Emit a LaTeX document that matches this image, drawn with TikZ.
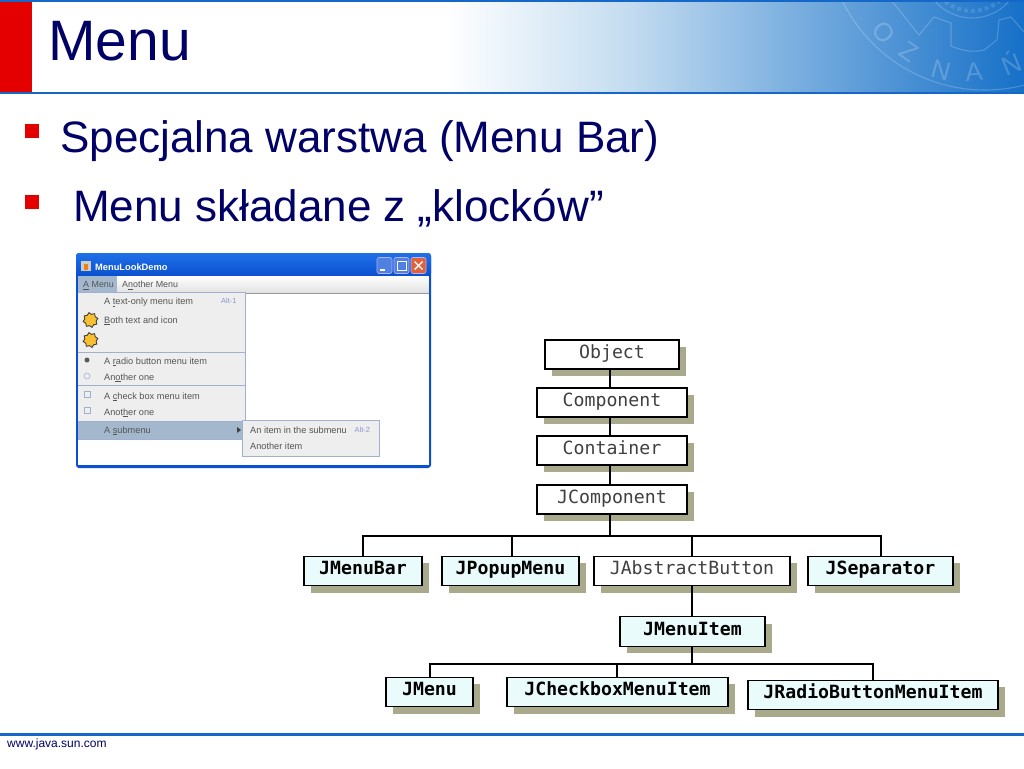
\documentclass[tikz,border=0pt]{standalone}
\usepackage{fontspec}
\setmainfont{Liberation Sans}
\newfontfamily\monofam{DejaVu Sans Mono}
\usetikzlibrary{shadows,shapes.geometric,shapes.misc}
\definecolor{navy}{HTML}{000066}
\definecolor{hdrblue}{HTML}{1568C8}
\definecolor{hdrend}{HTML}{1670C8}
\definecolor{hdrmid}{HTML}{C5DDF0}
\definecolor{shadowc}{HTML}{A9A98C}
\definecolor{lightc}{HTML}{E9FBFB}
\definecolor{menubg}{HTML}{EEEEEE}
\definecolor{menusel}{HTML}{A3B8CC}
\definecolor{menuline}{HTML}{A0B0D0}
\definecolor{menutxt}{HTML}{555555}
\definecolor{xpblue}{HTML}{0A50D0}
\definecolor{xptop}{HTML}{2070E8}
\definecolor{acc}{HTML}{8898D0}
\definecolor{btnblue}{HTML}{5080E0}
\definecolor{btnred}{HTML}{E06038}
\definecolor{amber}{HTML}{F8C030}
\newcommand{\fsz}[1]{\fontsize{#1}{#1}\selectfont}
\tikzset{
  x=1pt,y=-1pt,
  classbox/.style={draw=black,line width=1.2pt,inner sep=0pt,text height=10pt,text depth=3pt,
    drop shadow={shadow xshift=7pt,shadow yshift=-7pt,fill=shadowc,opacity=1},font=\monofam\fsz{18.2}},
  plainbox/.style={classbox,fill=white,text=black!75},
  boldbox/.style={classbox,fill=lightc,text=black,font=\monofam\bfseries\fsz{18.2}},
  wire/.style={draw=black,line width=1.3pt},
  heading/.style={anchor=base west,text=navy,inner sep=0pt,font=\fsz{57}},
  bodytext/.style={anchor=base west,text=navy,inner sep=0pt,font=\fsz{44}},
  bullet/.style={fill=red!90!black,draw=none,inner sep=0pt,minimum size=14pt,rectangle},
  mi/.style={anchor=base west,text=menutxt,inner sep=0pt,font=\fsz{9.2}},
  acct/.style={anchor=base west,text=acc,inner sep=0pt,font=\fsz{7.4}},
  burst/.style={star,star points=8,star point ratio=1.3,fill=amber,draw=black!75,line width=.9pt,inner sep=0pt,minimum size=15pt,rotate=12},
  seal/.style={draw=white,draw opacity=.2,line width=1.1pt},
  sealt/.style={text=white,text opacity=.2,inner sep=0pt,font=\fsz{26}},
  winbtn/.style={rounded corners=2pt,draw=white!70!blue,line width=.6pt,inner sep=0pt,minimum width=15pt,minimum height=16pt},
}
\begin{document}
\begin{tikzpicture}
\useasboundingbox (0,0) rectangle (1024,768);
\fill[white] (0,0) rectangle (1024,768);
% header
\shade[left color=white,right color=hdrmid,shading angle=90] (445,2) rectangle (624.5,92);
\shade[left color=hdrmid,right color=hdrend,shading angle=90] (624,2) rectangle (1024,92);
\begin{scope}
\clip (0,2) rectangle (1024,92);
\draw[seal] (985,-68.6) circle[radius=158.6];
\draw[seal] (891,0) -- (919,35) -- (934,17) -- (951,23) -- (951,46) .. controls (965,52) and (975,52) .. (984,50) -- (997,40) -- (999,20) -- (1011,17) -- (1024,32);
\draw[seal] (972,-31) circle[radius=49];
\draw[draw=white,draw opacity=.12,dash pattern=on 4pt off 3pt,line width=4pt] (972,-31) circle[radius=42];
\node[sealt,rotate=-50] (sO) at (884,32) {O};
\node[sealt,rotate=-35] (sZ) at (909,52) {Z};
\node[sealt,rotate=-15] (sN) at (941,70) {N};
\node[sealt,rotate=5] (sA) at (974,72) {A};
\node[sealt,rotate=22] (sNn) at (1011,63) {Ń};
\end{scope}
\fill[hdrblue] (0,0) rectangle (1024,2);
\fill[hdrblue] (0,92) rectangle (1024,94);
\fill[red!90!black] (0,2) rectangle (32,92);
\node[heading] (title) at (48,60) {Menu};
% bullets
\node[bullet] (b1) at (32,131) {};
\node[bullet] (b2) at (32,201.5) {};
\node[bodytext] (t1) at (60,152) {Specjalna warstwa (Menu Bar)};
\node[bodytext] (t2) at (73,221) {Menu składane z „klocków”};
% window
\fill[xpblue,rounded corners=3pt] (76,253) rectangle (431,468);
\shade[top color=xptop,bottom color=xpblue,rounded corners=3pt] (76,253) rectangle (431,276);
\fill[white] (78,276) rectangle (428.5,465);
\shade[top color=white,bottom color=black!12] (78,276) rectangle (428.5,293);
\draw[black!40,line width=.6pt] (78,293) -- (428.5,293);
\fill[menusel] (78,276) rectangle (117,292);
\fill[black!20] (81,261) rectangle (91,271);
\fill[orange!70!brown] (84,264) rectangle (88,270);
\node[anchor=base west,text=white,inner sep=0pt,font=\bfseries\fsz{9.3}] (wt) at (95,270) {MenuLookDemo};
\node[winbtn,fill=btnblue] (wmin) at (384.5,265.5) {};
\node[winbtn,fill=btnblue] (wmax) at (401.5,265.5) {};
\node[winbtn,fill=btnred] (wclo) at (418.5,265.5) {};
\fill[white] (380,269) rectangle (385,271);
\draw[white,line width=.8pt] (397,261) rectangle (406,270);
\draw[white,line width=1.4pt] (414.5,261.5) -- (422.5,269.5) (422.5,261.5) -- (414.5,269.5);
\node[mi,font=\fsz{8.9}] (m1) at (83,287.5) {\underline{A} Menu};
\node[mi,font=\fsz{8.9}] (m2) at (122,287.5) {A\underline{n}other Menu};
% menu panel
\fill[menubg] (78,292) rectangle (245,439);
\draw[menuline,line width=.7pt] (78,292) -- (245,292) -- (245,421);
\fill[menusel] (78,421) rectangle (245,439);
\draw[menuline,line width=.7pt] (78,352) -- (245,352) (78,385) -- (245,385) (78,421) -- (245,421) (78,439) -- (245,439);
\node[mi] (i1) at (104,304.5) {A \underline{t}ext-only menu item};
\node[acct] (a1) at (221,303.5) {Alt-1};
\node[burst] (s1) at (90.5,320) {};
\node[mi] (i2) at (104,323) {\underline{B}oth text and icon};
\node[burst] (s2) at (90.5,340) {};
\node[circle,fill=black!65,inner sep=0pt,minimum size=5pt] (r1) at (87,360) {};
\node[mi] (i3) at (104,364) {A \underline{r}adio button menu item};
\node[circle,draw=menuline,fill=menubg,line width=.6pt,inner sep=0pt,minimum size=6pt] (r2) at (87,376) {};
\node[mi] (i4) at (104,380) {An\underline{o}ther one};
\node[draw=menuline,fill=menubg,line width=.7pt,inner sep=0pt,minimum size=6pt] (c1) at (87,394.5) {};
\node[mi] (i5) at (104,399) {A \underline{c}heck box menu item};
\node[draw=menuline,fill=menubg,line width=.7pt,inner sep=0pt,minimum size=6pt] (c2) at (87,410.5) {};
\node[mi] (i6) at (104,415) {Anot\underline{h}er one};
\node[mi] (i7) at (104,433) {A \underline{s}ubmenu};
\fill[black!75] (237,427) -- (241,430) -- (237,433) -- cycle;
% submenu
\fill[menubg,draw=menuline,line width=.7pt] (242,420) rectangle (379,456);
\node[mi] (j1) at (250,433.5) {An item in the submenu};
\node[acct] (a2) at (354.5,432) {Alt-2};
\node[mi] (j2) at (250,449) {Another item};
% class diagram
\node[plainbox,minimum width=134pt,minimum height=29pt] (object) at (612,354.5) {Object\hspace{5pt}};
\node[plainbox,minimum width=150pt,minimum height=29pt] (component) at (612,402.5) {Component\hspace{6pt}};
\node[plainbox,minimum width=150pt,minimum height=29pt] (container) at (612,450.5) {Container\hspace{6pt}};
\node[plainbox,minimum width=150pt,minimum height=29pt] (jcomponent) at (612,499.5) {JComponent\hspace{7pt}};
\node[boldbox,minimum width=118pt,minimum height=29.5pt] (jmenubar) at (363,571) {JMenuBar\hspace{5pt}};
\node[boldbox,minimum width=137pt,minimum height=29.5pt] (jpopup) at (510.5,571) {JPopupMenu\hspace{4pt}};
\node[plainbox,minimum width=196pt,minimum height=29.5pt] (jabstract) at (692,571) {JAbstractButton\hspace{9pt}};
\node[boldbox,minimum width=145pt,minimum height=29.5pt] (jsep) at (880.5,571) {JSeparator\hspace{5pt}};
\node[boldbox,minimum width=145pt,minimum height=29.5pt] (jitem) at (692.5,631.5) {JMenuItem\hspace{4pt}};
\node[boldbox,minimum width=87pt,minimum height=29.5pt] (jmenu) at (429.5,692) {JMenu\hspace{3pt}};
\node[boldbox,minimum width=221pt,minimum height=29.5pt] (jcheck) at (617.5,692) {JCheckboxMenuItem\hspace{4pt}};
\node[boldbox,minimum width=250pt,minimum height=29.5pt] (jradio) at (873,695) {JRadioButtonMenuItem\hspace{4pt}};
\coordinate (spine) at (610,340);
\coordinate (bus1) at (610,536);
\coordinate (bus2) at (692,664);
\draw[wire] (object.south -| spine) -- (component.north -| spine);
\draw[wire] (component.south -| spine) -- (container.north -| spine);
\draw[wire] (container.south -| spine) -- (jcomponent.north -| spine);
\draw[wire] (jcomponent.south -| spine) -- (bus1);
\draw[wire] (jmenubar.north) |- (bus1);
\draw[wire] ([xshift=1.5pt]jpopup.north) |- (bus1);
\draw[wire] (jabstract.north) |- (bus1);
\draw[wire] ([xshift=.5pt]jsep.north) |- (bus1);
\draw[wire] (jabstract.south) -- (jitem.north -| jabstract);
\draw[wire] (jitem.south -| jabstract) -- (bus2);
\draw[wire] ([xshift=.5pt]jmenu.north) |- (bus2);
\draw[wire] ([xshift=-.5pt]jcheck.north) |- (bus2);
\draw[wire] (jradio.north) |- (bus2);
% footer
\fill[hdrblue] (0,733) rectangle (1024,735.5);
\node[anchor=base west,inner sep=0pt,text=navy,font=\fsz{12}] (foot) at (7,747) {www.java.sun.com};
\end{tikzpicture}
\end{document}
